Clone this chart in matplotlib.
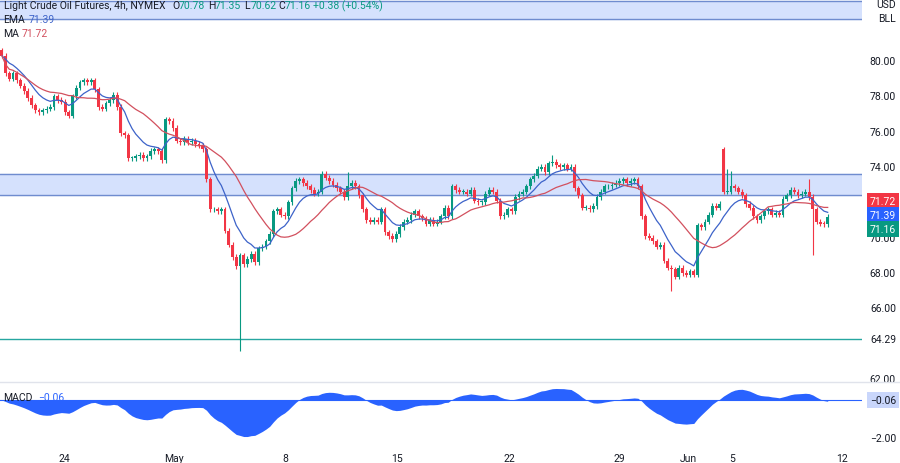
import numpy as np
import pandas as pd
import matplotlib
matplotlib.use("Agg")
import matplotlib.pyplot as plt
from matplotlib.patches import Rectangle

plt.rcParams["font.family"] = "Roboto"

closes = [80.3, 79.3, 79.0, 79.3, 78.9, 78.6, 78.3, 77.9, 77.5, 77.2,
          77.1, 77.2, 77.3, 77.4, 78.0, 77.8, 77.7, 77.1, 76.9, 78.0,
          78.5, 78.8, 78.9, 78.8, 78.9, 78.4, 77.4, 77.3, 77.6, 77.8,
          78.1, 77.4, 75.9, 75.8, 74.5, 74.5, 74.6, 74.7, 74.5, 74.6,
          74.9, 75.0, 74.9, 74.4, 76.7, 76.6, 76.2, 75.5, 75.4, 75.6,
          75.4, 75.5, 75.3, 75.2, 75.0, 73.3, 71.6, 71.6, 71.5, 71.6,
          70.4, 69.6, 68.9, 68.4, 69.0, 68.5, 68.8, 69.1, 68.6, 69.4,
          69.5, 69.8, 70.2, 71.5, 71.6, 71.3, 71.2, 72.0, 72.8, 73.2,
          73.3, 73.1, 72.9, 72.7, 72.5, 72.6, 73.6, 73.4, 73.2, 73.0,
          72.8, 72.6, 72.3, 72.9, 73.1, 72.9, 72.4, 71.6, 71.0, 70.9,
          71.0, 70.9, 71.6, 70.3, 70.1, 69.9, 70.2, 70.6, 70.9, 71.0,
          71.3, 71.5, 71.2, 71.1, 70.8, 71.0, 70.8, 70.9, 71.2, 71.7,
          71.2, 72.9, 72.7, 72.6, 72.6, 72.5, 72.7, 72.1, 72.0, 72.0,
          72.5, 72.7, 72.6, 72.1, 71.2, 71.3, 71.6, 71.5, 72.3, 72.5,
          72.6, 72.9, 73.3, 73.5, 73.9, 74.0, 73.7, 74.2, 74.3, 74.1,
          74.0, 74.1, 73.9, 74.0, 72.8, 72.4, 71.7, 71.7, 71.6, 71.8,
          72.3, 72.6, 72.9, 72.9, 73.0, 73.1, 73.2, 73.3, 73.1, 73.2,
          73.3, 72.9, 71.2, 70.1, 70.0, 69.8, 69.5, 69.6, 68.7, 68.3,
          68.2, 67.8, 68.3, 68.0, 67.9, 68.1, 67.9, 70.7, 70.6, 70.9,
          71.3, 71.8, 71.7, 71.9, 72.6, 72.6, 72.9, 72.8, 72.6, 72.4,
          71.9, 71.7, 71.2, 71.0, 71.2, 71.5, 71.6, 71.3, 71.4, 71.3,
          72.2, 72.4, 72.7, 72.6, 72.4, 72.5, 72.6, 72.3, 71.6, 70.9,
          70.8, 70.78, 71.16]
open_overrides = {0: 80.6, 194: 75.0}
high_overrides = {148: 74.7, 195: 73.9, 196: 73.8, 217: 73.3, 222: 71.35, 93: 73.7}
low_overrides = {64: 63.6, 218: 69.0, 180: 67.0, 222: 70.62}

tick_bars = [16.7, 46.2, 76.3, 106.2, 136.3, 166.1, 184.4, 196.2, 225.8]
tick_labels = ["24", "May", "8", "15", "22", "29", "Jun", "5", "12"]
price_ticks = [62, 66, 68, 70, 74, 76, 78, 80]
zones = [(72.4, 73.6), (82.4, 83.4)]
support = 64.29

GREEN = "#089981"; RED = "#F23645"; BLUE = "#2962FF"
EMA_C = "#3d63c9"; MA_C = "#d2505e"
FS = 7.5

c = np.array(closes)
n = len(c)
o = np.concatenate([[c[0]], c[:-1]])
for k, v in open_overrides.items():
    o[k] = v
hi = np.maximum(o, c) + 0.15
lo = np.minimum(o, c) - 0.15
for k, v in high_overrides.items(): hi[k] = v
for k, v in low_overrides.items(): lo[k] = v

s = pd.Series(c)
ema = s.ewm(span=9, adjust=False).mean().values
ma = s.rolling(20, min_periods=1).mean().values
macd = (s.ewm(span=12, adjust=False).mean() - s.ewm(span=26, adjust=False).mean()).values

fig = plt.figure(figsize=(9, 4.64), dpi=100)
W, H = 900, 464
axw = 862 / W
ax = fig.add_axes([0, 1 - 383 / H, axw, 383 / H])
ax2 = fig.add_axes([0, 1 - 445 / H, axw, 62 / H])
xl = (-0.5, 862 / 3.72 - 0.5)

for a in (ax, ax2):
    a.set_xlim(*xl)
    for sp in a.spines.values():
        sp.set_visible(False)
    a.tick_params(left=False, bottom=False, labelleft=False, labelbottom=False)
ax.set_ylim(61.83, 83.51)
ax2.set_ylim(-2.32, 0.95)

for z0, z1 in zones:
    ax.axhspan(z0, z1, color="#d5e1fd", zorder=0)
    for zz in (z0, z1):
        ax.axhline(zz, color="#6f8ccf", lw=1, zorder=1)
ax.axhline(support, color="#26a6a0", lw=1, zorder=1)

idx = np.arange(n)
for i in range(n):
    col = GREEN if c[i] >= o[i] else RED
    ax.vlines(i, lo[i], hi[i], color=col, lw=0.8, zorder=3)
    b0, b1 = min(o[i], c[i]), max(o[i], c[i])
    ax.add_patch(Rectangle((i - 0.38, b0), 0.76, max(b1 - b0, 0.05), color=col, zorder=4, lw=0))
ax.plot(idx, ema, color=EMA_C, lw=0.9, zorder=5)
ax.plot(idx, ma, color=MA_C, lw=0.9, zorder=5)

ax2.fill_between(idx, macd, 0, color=BLUE, lw=0)
ax2.axhline(0, color=BLUE, lw=0.8)
fig.add_artist(plt.Line2D([0, 1], [1 - 383 / H] * 2, color="#e0e3eb", lw=1))

XR = 896 / 862
def ylab(a, v, txt, fg="#131722", bg=None):
    kw = dict(transform=a.get_yaxis_transform(), fontsize=FS, va="center", ha="right",
              color=fg, clip_on=False)
    if bg:
        kw["bbox"] = dict(boxstyle="square,pad=0.3", fc=bg, ec="none")
    a.text(XR, v, txt, **kw)

for p in price_ticks:
    ylab(ax, p, f"{p:.2f}")
ylab(ax, 72.07, "71.72", "white", RED)
ylab(ax, 71.27, "71.39", "white", BLUE)
ylab(ax, 70.48, "71.16", "white", GREEN)
ylab(ax, support, "64.29", "#131722", "white")
ylab(ax2, 0, "\u22120.06", "#131722", "#c9d6fb")
ylab(ax2, -2, "\u22122.00")
fig.text(XR * axw, 1 - 5 / H, "USD", fontsize=FS, ha="right", va="center", color="#131722")
fig.text(XR * axw, 1 - 19 / H, "BLL", fontsize=FS, ha="right", va="center", color="#131722")

for b, t in zip(tick_bars, tick_labels):
    ax2.text(b, -0.22, t, transform=ax2.get_xaxis_transform(), ha="center", va="center",
             fontsize=FS, color="#131722", clip_on=False)

y0 = 1 - 6 / H
fig.text(0.004, y0, "Light Crude Oil Futures, 4h, NYMEX", fontsize=FS, va="center", color="#131722")
parts = [("O", "70.78", 172), ("H", "71.35", 208), ("L", "70.62", 244), ("C", "71.16", 278)]
for lab, val, px in parts:
    fig.text(px / W, y0, lab, fontsize=FS, va="center", color="#131722")
    fig.text((px + 7) / W, y0, val, fontsize=FS, va="center", color=GREEN)
fig.text(313 / W, y0, "+0.38 (+0.54%)", fontsize=FS, va="center", color=GREEN)
fig.text(0.004, 1 - 20 / H, "EMA", fontsize=FS, va="center", color="#131722")
fig.text(0.032, 1 - 20 / H, "71.39", fontsize=FS, va="center", color=EMA_C)
fig.text(0.004, 1 - 34 / H, "MA", fontsize=FS, va="center", color="#131722")
fig.text(0.024, 1 - 34 / H, "71.72", fontsize=FS, va="center", color=MA_C)
fig.text(0.004, 1 - 398 / H, "MACD", fontsize=FS, va="center", color="#131722")
fig.text(0.042, 1 - 398 / H, "\u22120.06", fontsize=FS, va="center", color=BLUE)

fig.savefig("out.png", dpi=100, facecolor="white")
